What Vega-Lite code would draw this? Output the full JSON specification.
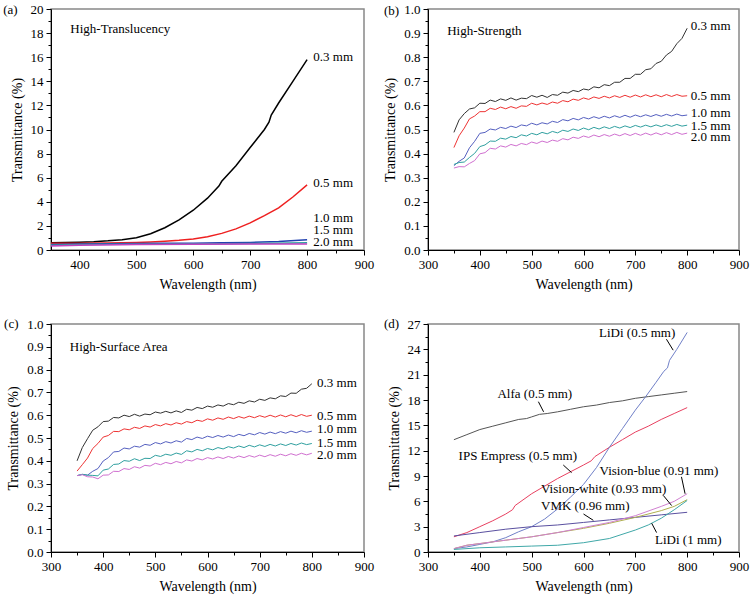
{
  "$schema": "https://vega.github.io/schema/vega-lite/v6.json",
  "padding": {"left": 2, "top": 2, "right": 5, "bottom": 5},
  "background": "white",
  "config": {
    "font": "Liberation Serif",
    "view": {"stroke": "#888888", "strokeWidth": 1.5},
    "axis": {
      "labelFont": "Liberation Serif", "labelFontSize": 13, "labelColor": "#000",
      "titleFont": "Liberation Serif", "titleFontSize": 14, "titleFontWeight": "normal", "titleColor": "#000",
      "domainColor": "#000", "tickColor": "#000", "grid": false,
      "labelFlush": false, "labelOverlap": false, "labelBound": false,
      "labelPadding": 3, "titlePadding": 6, "tickCount": 1000
    },
    "text": {"font": "Liberation Serif", "fontSize": 13, "align": "left", "baseline": "middle", "color": "#000"}
  },
  "datasets": {
    "a": [
      {"s":"0.3 mm","x":350,"y":0.60},{"s":"0.3 mm","x":375,"y":0.62},{"s":"0.3 mm","x":400,"y":0.65},{"s":"0.3 mm","x":425,"y":0.69},{"s":"0.3 mm","x":450,"y":0.76},{"s":"0.3 mm","x":475,"y":0.86},{"s":"0.3 mm","x":500,"y":1.02},{"s":"0.3 mm","x":525,"y":1.35},{"s":"0.3 mm","x":550,"y":1.85},{"s":"0.3 mm","x":575,"y":2.5},{"s":"0.3 mm","x":600,"y":3.3},{"s":"0.3 mm","x":625,"y":4.3},{"s":"0.3 mm","x":645,"y":5.3},{"s":"0.3 mm","x":650,"y":5.7},{"s":"0.3 mm","x":675,"y":7.0},{"s":"0.3 mm","x":700,"y":8.5},{"s":"0.3 mm","x":725,"y":10.0},{"s":"0.3 mm","x":733,"y":10.6},{"s":"0.3 mm","x":737,"y":11.2},{"s":"0.3 mm","x":750,"y":12.2},{"s":"0.3 mm","x":775,"y":14.0},{"s":"0.3 mm","x":800,"y":15.8},
      {"s":"0.5 mm","x":350,"y":0.55},{"s":"0.5 mm","x":400,"y":0.57},{"s":"0.5 mm","x":450,"y":0.58},{"s":"0.5 mm","x":500,"y":0.62},{"s":"0.5 mm","x":525,"y":0.66},{"s":"0.5 mm","x":550,"y":0.72},{"s":"0.5 mm","x":575,"y":0.80},{"s":"0.5 mm","x":600,"y":0.92},{"s":"0.5 mm","x":625,"y":1.1},{"s":"0.5 mm","x":650,"y":1.38},{"s":"0.5 mm","x":675,"y":1.75},{"s":"0.5 mm","x":700,"y":2.25},{"s":"0.5 mm","x":725,"y":2.85},{"s":"0.5 mm","x":750,"y":3.5},{"s":"0.5 mm","x":775,"y":4.4},{"s":"0.5 mm","x":800,"y":5.4},
      {"s":"1.0 mm","x":350,"y":0.45},{"s":"1.0 mm","x":400,"y":0.50},{"s":"1.0 mm","x":450,"y":0.52},{"s":"1.0 mm","x":500,"y":0.54},{"s":"1.0 mm","x":550,"y":0.55},{"s":"1.0 mm","x":600,"y":0.57},{"s":"1.0 mm","x":650,"y":0.60},{"s":"1.0 mm","x":700,"y":0.63},{"s":"1.0 mm","x":750,"y":0.70},{"s":"1.0 mm","x":800,"y":0.85},
      {"s":"1.5 mm","x":350,"y":0.40},{"s":"1.5 mm","x":400,"y":0.45},{"s":"1.5 mm","x":500,"y":0.48},{"s":"1.5 mm","x":600,"y":0.50},{"s":"1.5 mm","x":700,"y":0.53},{"s":"1.5 mm","x":800,"y":0.60},
      {"s":"2.0 mm","x":350,"y":0.33},{"s":"2.0 mm","x":400,"y":0.40},{"s":"2.0 mm","x":500,"y":0.45},{"s":"2.0 mm","x":600,"y":0.48},{"s":"2.0 mm","x":700,"y":0.49},{"s":"2.0 mm","x":800,"y":0.50}
    ],
    "aLab": [
      {"t":"(a)","x":266,"y":19.9},{"t":"High-Translucency","x":384,"y":18.3},
      {"t":"0.3 mm","x":811,"y":16.0},{"t":"0.5 mm","x":811,"y":5.6},{"t":"1.0 mm","x":811,"y":2.65},{"t":"1.5 mm","x":811,"y":1.65},{"t":"2.0 mm","x":811,"y":0.65}
    ],
    "b": [
      {"s":"0.3 mm","x":350,"y":0.488},{"s":"0.3 mm","x":360,"y":0.540},{"s":"0.3 mm","x":370,"y":0.566},{"s":"0.3 mm","x":380,"y":0.585},{"s":"0.3 mm","x":390,"y":0.590},{"s":"0.3 mm","x":400,"y":0.609},{"s":"0.3 mm","x":410,"y":0.608},{"s":"0.3 mm","x":420,"y":0.622},{"s":"0.3 mm","x":430,"y":0.616},{"s":"0.3 mm","x":440,"y":0.627},{"s":"0.3 mm","x":450,"y":0.621},{"s":"0.3 mm","x":460,"y":0.631},{"s":"0.3 mm","x":470,"y":0.622},{"s":"0.3 mm","x":480,"y":0.630},{"s":"0.3 mm","x":490,"y":0.628},{"s":"0.3 mm","x":500,"y":0.641},{"s":"0.3 mm","x":510,"y":0.634},{"s":"0.3 mm","x":520,"y":0.642},{"s":"0.3 mm","x":530,"y":0.633},{"s":"0.3 mm","x":540,"y":0.645},{"s":"0.3 mm","x":550,"y":0.642},{"s":"0.3 mm","x":560,"y":0.655},{"s":"0.3 mm","x":570,"y":0.651},{"s":"0.3 mm","x":580,"y":0.662},{"s":"0.3 mm","x":590,"y":0.657},{"s":"0.3 mm","x":600,"y":0.668},{"s":"0.3 mm","x":610,"y":0.664},{"s":"0.3 mm","x":620,"y":0.677},{"s":"0.3 mm","x":630,"y":0.673},{"s":"0.3 mm","x":640,"y":0.686},{"s":"0.3 mm","x":650,"y":0.682},{"s":"0.3 mm","x":660,"y":0.696},{"s":"0.3 mm","x":670,"y":0.696},{"s":"0.3 mm","x":680,"y":0.712},{"s":"0.3 mm","x":690,"y":0.712},{"s":"0.3 mm","x":700,"y":0.729},{"s":"0.3 mm","x":710,"y":0.729},{"s":"0.3 mm","x":720,"y":0.748},{"s":"0.3 mm","x":730,"y":0.752},{"s":"0.3 mm","x":740,"y":0.774},{"s":"0.3 mm","x":750,"y":0.783},{"s":"0.3 mm","x":760,"y":0.809},{"s":"0.3 mm","x":770,"y":0.824},{"s":"0.3 mm","x":780,"y":0.856},{"s":"0.3 mm","x":790,"y":0.878},{"s":"0.3 mm","x":800,"y":0.920},
      {"s":"0.5 mm","x":350,"y":0.425},{"s":"0.5 mm","x":360,"y":0.474},{"s":"0.5 mm","x":370,"y":0.506},{"s":"0.5 mm","x":380,"y":0.544},{"s":"0.5 mm","x":390,"y":0.556},{"s":"0.5 mm","x":400,"y":0.574},{"s":"0.5 mm","x":410,"y":0.574},{"s":"0.5 mm","x":420,"y":0.588},{"s":"0.5 mm","x":430,"y":0.583},{"s":"0.5 mm","x":440,"y":0.593},{"s":"0.5 mm","x":450,"y":0.586},{"s":"0.5 mm","x":460,"y":0.595},{"s":"0.5 mm","x":470,"y":0.588},{"s":"0.5 mm","x":480,"y":0.598},{"s":"0.5 mm","x":490,"y":0.596},{"s":"0.5 mm","x":500,"y":0.609},{"s":"0.5 mm","x":510,"y":0.602},{"s":"0.5 mm","x":520,"y":0.610},{"s":"0.5 mm","x":530,"y":0.604},{"s":"0.5 mm","x":540,"y":0.614},{"s":"0.5 mm","x":550,"y":0.609},{"s":"0.5 mm","x":560,"y":0.620},{"s":"0.5 mm","x":570,"y":0.615},{"s":"0.5 mm","x":580,"y":0.626},{"s":"0.5 mm","x":590,"y":0.621},{"s":"0.5 mm","x":600,"y":0.631},{"s":"0.5 mm","x":610,"y":0.625},{"s":"0.5 mm","x":620,"y":0.635},{"s":"0.5 mm","x":630,"y":0.629},{"s":"0.5 mm","x":640,"y":0.638},{"s":"0.5 mm","x":650,"y":0.631},{"s":"0.5 mm","x":660,"y":0.640},{"s":"0.5 mm","x":670,"y":0.633},{"s":"0.5 mm","x":680,"y":0.642},{"s":"0.5 mm","x":690,"y":0.634},{"s":"0.5 mm","x":700,"y":0.643},{"s":"0.5 mm","x":710,"y":0.635},{"s":"0.5 mm","x":720,"y":0.644},{"s":"0.5 mm","x":730,"y":0.636},{"s":"0.5 mm","x":740,"y":0.644},{"s":"0.5 mm","x":750,"y":0.636},{"s":"0.5 mm","x":760,"y":0.645},{"s":"0.5 mm","x":770,"y":0.637},{"s":"0.5 mm","x":780,"y":0.645},{"s":"0.5 mm","x":790,"y":0.638},{"s":"0.5 mm","x":800,"y":0.640},
      {"s":"1.0 mm","x":350,"y":0.350},{"s":"1.0 mm","x":360,"y":0.368},{"s":"1.0 mm","x":370,"y":0.382},{"s":"1.0 mm","x":380,"y":0.424},{"s":"1.0 mm","x":390,"y":0.451},{"s":"1.0 mm","x":400,"y":0.484},{"s":"1.0 mm","x":410,"y":0.488},{"s":"1.0 mm","x":420,"y":0.502},{"s":"1.0 mm","x":430,"y":0.498},{"s":"1.0 mm","x":440,"y":0.509},{"s":"1.0 mm","x":450,"y":0.504},{"s":"1.0 mm","x":460,"y":0.514},{"s":"1.0 mm","x":470,"y":0.508},{"s":"1.0 mm","x":480,"y":0.519},{"s":"1.0 mm","x":490,"y":0.515},{"s":"1.0 mm","x":500,"y":0.526},{"s":"1.0 mm","x":510,"y":0.519},{"s":"1.0 mm","x":520,"y":0.528},{"s":"1.0 mm","x":530,"y":0.523},{"s":"1.0 mm","x":540,"y":0.534},{"s":"1.0 mm","x":550,"y":0.529},{"s":"1.0 mm","x":560,"y":0.541},{"s":"1.0 mm","x":570,"y":0.536},{"s":"1.0 mm","x":580,"y":0.546},{"s":"1.0 mm","x":590,"y":0.540},{"s":"1.0 mm","x":600,"y":0.550},{"s":"1.0 mm","x":610,"y":0.544},{"s":"1.0 mm","x":620,"y":0.553},{"s":"1.0 mm","x":630,"y":0.546},{"s":"1.0 mm","x":640,"y":0.555},{"s":"1.0 mm","x":650,"y":0.548},{"s":"1.0 mm","x":660,"y":0.557},{"s":"1.0 mm","x":670,"y":0.550},{"s":"1.0 mm","x":680,"y":0.559},{"s":"1.0 mm","x":690,"y":0.551},{"s":"1.0 mm","x":700,"y":0.560},{"s":"1.0 mm","x":710,"y":0.553},{"s":"1.0 mm","x":720,"y":0.561},{"s":"1.0 mm","x":730,"y":0.554},{"s":"1.0 mm","x":740,"y":0.562},{"s":"1.0 mm","x":750,"y":0.555},{"s":"1.0 mm","x":760,"y":0.563},{"s":"1.0 mm","x":770,"y":0.556},{"s":"1.0 mm","x":780,"y":0.564},{"s":"1.0 mm","x":790,"y":0.557},{"s":"1.0 mm","x":800,"y":0.560},
      {"s":"1.5 mm","x":350,"y":0.355},{"s":"1.5 mm","x":360,"y":0.363},{"s":"1.5 mm","x":370,"y":0.365},{"s":"1.5 mm","x":380,"y":0.384},{"s":"1.5 mm","x":390,"y":0.401},{"s":"1.5 mm","x":400,"y":0.429},{"s":"1.5 mm","x":410,"y":0.436},{"s":"1.5 mm","x":420,"y":0.452},{"s":"1.5 mm","x":430,"y":0.451},{"s":"1.5 mm","x":440,"y":0.464},{"s":"1.5 mm","x":450,"y":0.460},{"s":"1.5 mm","x":460,"y":0.471},{"s":"1.5 mm","x":470,"y":0.466},{"s":"1.5 mm","x":480,"y":0.478},{"s":"1.5 mm","x":490,"y":0.473},{"s":"1.5 mm","x":500,"y":0.484},{"s":"1.5 mm","x":510,"y":0.478},{"s":"1.5 mm","x":520,"y":0.488},{"s":"1.5 mm","x":530,"y":0.482},{"s":"1.5 mm","x":540,"y":0.492},{"s":"1.5 mm","x":550,"y":0.486},{"s":"1.5 mm","x":560,"y":0.497},{"s":"1.5 mm","x":570,"y":0.492},{"s":"1.5 mm","x":580,"y":0.502},{"s":"1.5 mm","x":590,"y":0.496},{"s":"1.5 mm","x":600,"y":0.506},{"s":"1.5 mm","x":610,"y":0.499},{"s":"1.5 mm","x":620,"y":0.509},{"s":"1.5 mm","x":630,"y":0.502},{"s":"1.5 mm","x":640,"y":0.511},{"s":"1.5 mm","x":650,"y":0.504},{"s":"1.5 mm","x":660,"y":0.513},{"s":"1.5 mm","x":670,"y":0.506},{"s":"1.5 mm","x":680,"y":0.515},{"s":"1.5 mm","x":690,"y":0.508},{"s":"1.5 mm","x":700,"y":0.517},{"s":"1.5 mm","x":710,"y":0.510},{"s":"1.5 mm","x":720,"y":0.518},{"s":"1.5 mm","x":730,"y":0.511},{"s":"1.5 mm","x":740,"y":0.519},{"s":"1.5 mm","x":750,"y":0.512},{"s":"1.5 mm","x":760,"y":0.520},{"s":"1.5 mm","x":770,"y":0.513},{"s":"1.5 mm","x":780,"y":0.521},{"s":"1.5 mm","x":790,"y":0.514},{"s":"1.5 mm","x":800,"y":0.518},
      {"s":"2.0 mm","x":350,"y":0.340},{"s":"2.0 mm","x":360,"y":0.346},{"s":"2.0 mm","x":370,"y":0.345},{"s":"2.0 mm","x":380,"y":0.359},{"s":"2.0 mm","x":390,"y":0.371},{"s":"2.0 mm","x":400,"y":0.399},{"s":"2.0 mm","x":410,"y":0.404},{"s":"2.0 mm","x":420,"y":0.422},{"s":"2.0 mm","x":430,"y":0.419},{"s":"2.0 mm","x":440,"y":0.432},{"s":"2.0 mm","x":450,"y":0.427},{"s":"2.0 mm","x":460,"y":0.438},{"s":"2.0 mm","x":470,"y":0.432},{"s":"2.0 mm","x":480,"y":0.442},{"s":"2.0 mm","x":490,"y":0.437},{"s":"2.0 mm","x":500,"y":0.448},{"s":"2.0 mm","x":510,"y":0.442},{"s":"2.0 mm","x":520,"y":0.452},{"s":"2.0 mm","x":530,"y":0.446},{"s":"2.0 mm","x":540,"y":0.456},{"s":"2.0 mm","x":550,"y":0.451},{"s":"2.0 mm","x":560,"y":0.462},{"s":"2.0 mm","x":570,"y":0.457},{"s":"2.0 mm","x":580,"y":0.468},{"s":"2.0 mm","x":590,"y":0.463},{"s":"2.0 mm","x":600,"y":0.473},{"s":"2.0 mm","x":610,"y":0.467},{"s":"2.0 mm","x":620,"y":0.477},{"s":"2.0 mm","x":630,"y":0.470},{"s":"2.0 mm","x":640,"y":0.479},{"s":"2.0 mm","x":650,"y":0.472},{"s":"2.0 mm","x":660,"y":0.481},{"s":"2.0 mm","x":670,"y":0.474},{"s":"2.0 mm","x":680,"y":0.483},{"s":"2.0 mm","x":690,"y":0.475},{"s":"2.0 mm","x":700,"y":0.484},{"s":"2.0 mm","x":710,"y":0.476},{"s":"2.0 mm","x":720,"y":0.485},{"s":"2.0 mm","x":730,"y":0.477},{"s":"2.0 mm","x":740,"y":0.486},{"s":"2.0 mm","x":750,"y":0.478},{"s":"2.0 mm","x":760,"y":0.487},{"s":"2.0 mm","x":770,"y":0.479},{"s":"2.0 mm","x":780,"y":0.488},{"s":"2.0 mm","x":790,"y":0.480},{"s":"2.0 mm","x":800,"y":0.485}
    ],
    "bLab": [
      {"t":"(b)","x":215,"y":0.99},{"t":"High-Strength","x":337,"y":0.91},
      {"t":"0.3 mm","x":807,"y":0.93},{"t":"0.5 mm","x":807,"y":0.64},{"t":"1.0 mm","x":807,"y":0.567},{"t":"1.5 mm","x":807,"y":0.516},{"t":"2.0 mm","x":807,"y":0.467}
    ],
    "c": [
      {"s":"0.3 mm","x":350,"y":0.400},{"s":"0.3 mm","x":360,"y":0.458},{"s":"0.3 mm","x":370,"y":0.497},{"s":"0.3 mm","x":380,"y":0.534},{"s":"0.3 mm","x":390,"y":0.549},{"s":"0.3 mm","x":400,"y":0.572},{"s":"0.3 mm","x":410,"y":0.574},{"s":"0.3 mm","x":420,"y":0.590},{"s":"0.3 mm","x":430,"y":0.588},{"s":"0.3 mm","x":440,"y":0.600},{"s":"0.3 mm","x":450,"y":0.594},{"s":"0.3 mm","x":460,"y":0.604},{"s":"0.3 mm","x":470,"y":0.596},{"s":"0.3 mm","x":480,"y":0.605},{"s":"0.3 mm","x":490,"y":0.602},{"s":"0.3 mm","x":500,"y":0.614},{"s":"0.3 mm","x":510,"y":0.609},{"s":"0.3 mm","x":520,"y":0.617},{"s":"0.3 mm","x":530,"y":0.610},{"s":"0.3 mm","x":540,"y":0.619},{"s":"0.3 mm","x":550,"y":0.612},{"s":"0.3 mm","x":560,"y":0.626},{"s":"0.3 mm","x":570,"y":0.622},{"s":"0.3 mm","x":580,"y":0.634},{"s":"0.3 mm","x":590,"y":0.629},{"s":"0.3 mm","x":600,"y":0.640},{"s":"0.3 mm","x":610,"y":0.635},{"s":"0.3 mm","x":620,"y":0.645},{"s":"0.3 mm","x":630,"y":0.640},{"s":"0.3 mm","x":640,"y":0.651},{"s":"0.3 mm","x":650,"y":0.646},{"s":"0.3 mm","x":660,"y":0.657},{"s":"0.3 mm","x":670,"y":0.652},{"s":"0.3 mm","x":680,"y":0.663},{"s":"0.3 mm","x":690,"y":0.658},{"s":"0.3 mm","x":700,"y":0.670},{"s":"0.3 mm","x":710,"y":0.665},{"s":"0.3 mm","x":720,"y":0.676},{"s":"0.3 mm","x":730,"y":0.672},{"s":"0.3 mm","x":740,"y":0.685},{"s":"0.3 mm","x":750,"y":0.682},{"s":"0.3 mm","x":760,"y":0.697},{"s":"0.3 mm","x":770,"y":0.696},{"s":"0.3 mm","x":780,"y":0.714},{"s":"0.3 mm","x":790,"y":0.718},{"s":"0.3 mm","x":800,"y":0.738},
      {"s":"0.5 mm","x":350,"y":0.355},{"s":"0.5 mm","x":360,"y":0.383},{"s":"0.5 mm","x":370,"y":0.412},{"s":"0.5 mm","x":380,"y":0.454},{"s":"0.5 mm","x":390,"y":0.476},{"s":"0.5 mm","x":400,"y":0.504},{"s":"0.5 mm","x":410,"y":0.511},{"s":"0.5 mm","x":420,"y":0.529},{"s":"0.5 mm","x":430,"y":0.528},{"s":"0.5 mm","x":440,"y":0.540},{"s":"0.5 mm","x":450,"y":0.536},{"s":"0.5 mm","x":460,"y":0.547},{"s":"0.5 mm","x":470,"y":0.542},{"s":"0.5 mm","x":480,"y":0.553},{"s":"0.5 mm","x":490,"y":0.548},{"s":"0.5 mm","x":500,"y":0.559},{"s":"0.5 mm","x":510,"y":0.553},{"s":"0.5 mm","x":520,"y":0.563},{"s":"0.5 mm","x":530,"y":0.557},{"s":"0.5 mm","x":540,"y":0.567},{"s":"0.5 mm","x":550,"y":0.561},{"s":"0.5 mm","x":560,"y":0.572},{"s":"0.5 mm","x":570,"y":0.567},{"s":"0.5 mm","x":580,"y":0.578},{"s":"0.5 mm","x":590,"y":0.573},{"s":"0.5 mm","x":600,"y":0.584},{"s":"0.5 mm","x":610,"y":0.578},{"s":"0.5 mm","x":620,"y":0.588},{"s":"0.5 mm","x":630,"y":0.582},{"s":"0.5 mm","x":640,"y":0.592},{"s":"0.5 mm","x":650,"y":0.585},{"s":"0.5 mm","x":660,"y":0.594},{"s":"0.5 mm","x":670,"y":0.587},{"s":"0.5 mm","x":680,"y":0.596},{"s":"0.5 mm","x":690,"y":0.589},{"s":"0.5 mm","x":700,"y":0.598},{"s":"0.5 mm","x":710,"y":0.591},{"s":"0.5 mm","x":720,"y":0.600},{"s":"0.5 mm","x":730,"y":0.592},{"s":"0.5 mm","x":740,"y":0.601},{"s":"0.5 mm","x":750,"y":0.593},{"s":"0.5 mm","x":760,"y":0.602},{"s":"0.5 mm","x":770,"y":0.594},{"s":"0.5 mm","x":780,"y":0.603},{"s":"0.5 mm","x":790,"y":0.595},{"s":"0.5 mm","x":800,"y":0.600},
      {"s":"1.0 mm","x":350,"y":0.335},{"s":"1.0 mm","x":360,"y":0.340},{"s":"1.0 mm","x":370,"y":0.337},{"s":"1.0 mm","x":380,"y":0.354},{"s":"1.0 mm","x":390,"y":0.366},{"s":"1.0 mm","x":400,"y":0.399},{"s":"1.0 mm","x":410,"y":0.414},{"s":"1.0 mm","x":420,"y":0.439},{"s":"1.0 mm","x":430,"y":0.441},{"s":"1.0 mm","x":440,"y":0.456},{"s":"1.0 mm","x":450,"y":0.452},{"s":"1.0 mm","x":460,"y":0.464},{"s":"1.0 mm","x":470,"y":0.460},{"s":"1.0 mm","x":480,"y":0.472},{"s":"1.0 mm","x":490,"y":0.468},{"s":"1.0 mm","x":500,"y":0.480},{"s":"1.0 mm","x":510,"y":0.474},{"s":"1.0 mm","x":520,"y":0.484},{"s":"1.0 mm","x":530,"y":0.478},{"s":"1.0 mm","x":540,"y":0.488},{"s":"1.0 mm","x":550,"y":0.482},{"s":"1.0 mm","x":560,"y":0.498},{"s":"1.0 mm","x":570,"y":0.493},{"s":"1.0 mm","x":580,"y":0.504},{"s":"1.0 mm","x":590,"y":0.498},{"s":"1.0 mm","x":600,"y":0.508},{"s":"1.0 mm","x":610,"y":0.502},{"s":"1.0 mm","x":620,"y":0.511},{"s":"1.0 mm","x":630,"y":0.504},{"s":"1.0 mm","x":640,"y":0.513},{"s":"1.0 mm","x":650,"y":0.506},{"s":"1.0 mm","x":660,"y":0.516},{"s":"1.0 mm","x":670,"y":0.510},{"s":"1.0 mm","x":680,"y":0.520},{"s":"1.0 mm","x":690,"y":0.514},{"s":"1.0 mm","x":700,"y":0.524},{"s":"1.0 mm","x":710,"y":0.517},{"s":"1.0 mm","x":720,"y":0.526},{"s":"1.0 mm","x":730,"y":0.519},{"s":"1.0 mm","x":740,"y":0.528},{"s":"1.0 mm","x":750,"y":0.521},{"s":"1.0 mm","x":760,"y":0.530},{"s":"1.0 mm","x":770,"y":0.523},{"s":"1.0 mm","x":780,"y":0.532},{"s":"1.0 mm","x":790,"y":0.525},{"s":"1.0 mm","x":800,"y":0.530},
      {"s":"1.5 mm","x":350,"y":0.335},{"s":"1.5 mm","x":360,"y":0.341},{"s":"1.5 mm","x":370,"y":0.337},{"s":"1.5 mm","x":380,"y":0.336},{"s":"1.5 mm","x":390,"y":0.334},{"s":"1.5 mm","x":400,"y":0.359},{"s":"1.5 mm","x":410,"y":0.364},{"s":"1.5 mm","x":420,"y":0.384},{"s":"1.5 mm","x":430,"y":0.386},{"s":"1.5 mm","x":440,"y":0.401},{"s":"1.5 mm","x":450,"y":0.398},{"s":"1.5 mm","x":460,"y":0.409},{"s":"1.5 mm","x":470,"y":0.401},{"s":"1.5 mm","x":480,"y":0.411},{"s":"1.5 mm","x":490,"y":0.410},{"s":"1.5 mm","x":500,"y":0.424},{"s":"1.5 mm","x":510,"y":0.419},{"s":"1.5 mm","x":520,"y":0.429},{"s":"1.5 mm","x":530,"y":0.424},{"s":"1.5 mm","x":540,"y":0.434},{"s":"1.5 mm","x":550,"y":0.428},{"s":"1.5 mm","x":560,"y":0.444},{"s":"1.5 mm","x":570,"y":0.439},{"s":"1.5 mm","x":580,"y":0.450},{"s":"1.5 mm","x":590,"y":0.444},{"s":"1.5 mm","x":600,"y":0.454},{"s":"1.5 mm","x":610,"y":0.448},{"s":"1.5 mm","x":620,"y":0.458},{"s":"1.5 mm","x":630,"y":0.452},{"s":"1.5 mm","x":640,"y":0.462},{"s":"1.5 mm","x":650,"y":0.456},{"s":"1.5 mm","x":660,"y":0.465},{"s":"1.5 mm","x":670,"y":0.458},{"s":"1.5 mm","x":680,"y":0.468},{"s":"1.5 mm","x":690,"y":0.461},{"s":"1.5 mm","x":700,"y":0.470},{"s":"1.5 mm","x":710,"y":0.463},{"s":"1.5 mm","x":720,"y":0.472},{"s":"1.5 mm","x":730,"y":0.465},{"s":"1.5 mm","x":740,"y":0.474},{"s":"1.5 mm","x":750,"y":0.467},{"s":"1.5 mm","x":760,"y":0.476},{"s":"1.5 mm","x":770,"y":0.469},{"s":"1.5 mm","x":780,"y":0.478},{"s":"1.5 mm","x":790,"y":0.471},{"s":"1.5 mm","x":800,"y":0.476},
      {"s":"2.0 mm","x":350,"y":0.335},{"s":"2.0 mm","x":360,"y":0.339},{"s":"2.0 mm","x":370,"y":0.330},{"s":"2.0 mm","x":380,"y":0.329},{"s":"2.0 mm","x":390,"y":0.321},{"s":"2.0 mm","x":400,"y":0.337},{"s":"2.0 mm","x":410,"y":0.338},{"s":"2.0 mm","x":420,"y":0.354},{"s":"2.0 mm","x":430,"y":0.353},{"s":"2.0 mm","x":440,"y":0.366},{"s":"2.0 mm","x":450,"y":0.362},{"s":"2.0 mm","x":460,"y":0.374},{"s":"2.0 mm","x":470,"y":0.368},{"s":"2.0 mm","x":480,"y":0.380},{"s":"2.0 mm","x":490,"y":0.377},{"s":"2.0 mm","x":500,"y":0.389},{"s":"2.0 mm","x":510,"y":0.383},{"s":"2.0 mm","x":520,"y":0.393},{"s":"2.0 mm","x":530,"y":0.387},{"s":"2.0 mm","x":540,"y":0.397},{"s":"2.0 mm","x":550,"y":0.391},{"s":"2.0 mm","x":560,"y":0.404},{"s":"2.0 mm","x":570,"y":0.399},{"s":"2.0 mm","x":580,"y":0.410},{"s":"2.0 mm","x":590,"y":0.404},{"s":"2.0 mm","x":600,"y":0.414},{"s":"2.0 mm","x":610,"y":0.408},{"s":"2.0 mm","x":620,"y":0.417},{"s":"2.0 mm","x":630,"y":0.410},{"s":"2.0 mm","x":640,"y":0.419},{"s":"2.0 mm","x":650,"y":0.412},{"s":"2.0 mm","x":660,"y":0.421},{"s":"2.0 mm","x":670,"y":0.414},{"s":"2.0 mm","x":680,"y":0.423},{"s":"2.0 mm","x":690,"y":0.416},{"s":"2.0 mm","x":700,"y":0.425},{"s":"2.0 mm","x":710,"y":0.418},{"s":"2.0 mm","x":720,"y":0.427},{"s":"2.0 mm","x":730,"y":0.420},{"s":"2.0 mm","x":740,"y":0.429},{"s":"2.0 mm","x":750,"y":0.422},{"s":"2.0 mm","x":760,"y":0.431},{"s":"2.0 mm","x":770,"y":0.424},{"s":"2.0 mm","x":780,"y":0.433},{"s":"2.0 mm","x":790,"y":0.426},{"s":"2.0 mm","x":800,"y":0.433}
    ],
    "cLab": [
      {"t":"(c)","x":210,"y":1.0},{"t":"High-Surface Area","x":336,"y":0.90},
      {"t":"0.3 mm","x":810,"y":0.74},{"t":"0.5 mm","x":810,"y":0.597},{"t":"1.0 mm","x":810,"y":0.539},{"t":"1.5 mm","x":810,"y":0.477},{"t":"2.0 mm","x":810,"y":0.425}
    ],
    "d": [
      {"s":"Alfa","x":350,"y":13.3},{"s":"Alfa","x":375,"y":13.9},{"s":"Alfa","x":400,"y":14.5},{"s":"Alfa","x":425,"y":14.9},{"s":"Alfa","x":450,"y":15.3},{"s":"Alfa","x":475,"y":15.7},{"s":"Alfa","x":490,"y":15.8},{"s":"Alfa","x":500,"y":16.0},{"s":"Alfa","x":515,"y":16.3},{"s":"Alfa","x":530,"y":16.4},{"s":"Alfa","x":550,"y":16.6},{"s":"Alfa","x":575,"y":16.9},{"s":"Alfa","x":600,"y":17.2},{"s":"Alfa","x":625,"y":17.4},{"s":"Alfa","x":650,"y":17.7},{"s":"Alfa","x":675,"y":17.9},{"s":"Alfa","x":700,"y":18.2},{"s":"Alfa","x":725,"y":18.4},{"s":"Alfa","x":750,"y":18.6},{"s":"Alfa","x":775,"y":18.8},{"s":"Alfa","x":800,"y":19.0},
      {"s":"IPS","x":350,"y":1.8},{"s":"IPS","x":375,"y":2.3},{"s":"IPS","x":400,"y":3.0},{"s":"IPS","x":425,"y":3.7},{"s":"IPS","x":450,"y":4.5},{"s":"IPS","x":463,"y":5.0},{"s":"IPS","x":468,"y":5.5},{"s":"IPS","x":500,"y":6.9},{"s":"IPS","x":525,"y":7.8},{"s":"IPS","x":550,"y":8.7},{"s":"IPS","x":575,"y":9.5},{"s":"IPS","x":600,"y":10.3},{"s":"IPS","x":615,"y":10.8},{"s":"IPS","x":622,"y":11.3},{"s":"IPS","x":650,"y":12.4},{"s":"IPS","x":675,"y":13.3},{"s":"IPS","x":700,"y":14.2},{"s":"IPS","x":725,"y":14.9},{"s":"IPS","x":750,"y":15.7},{"s":"IPS","x":775,"y":16.4},{"s":"IPS","x":800,"y":17.1},
      {"s":"LiDi05","x":350,"y":0.4},{"s":"LiDi05","x":375,"y":0.6},{"s":"LiDi05","x":400,"y":0.9},{"s":"LiDi05","x":425,"y":1.2},{"s":"LiDi05","x":450,"y":1.7},{"s":"LiDi05","x":475,"y":2.4},{"s":"LiDi05","x":500,"y":3.0},{"s":"LiDi05","x":525,"y":3.9},{"s":"LiDi05","x":550,"y":5.1},{"s":"LiDi05","x":575,"y":6.5},{"s":"LiDi05","x":600,"y":8.0},{"s":"LiDi05","x":625,"y":10.0},{"s":"LiDi05","x":650,"y":12.4},{"s":"LiDi05","x":675,"y":14.6},{"s":"LiDi05","x":700,"y":16.8},{"s":"LiDi05","x":720,"y":18.4},{"s":"LiDi05","x":740,"y":20.1},{"s":"LiDi05","x":755,"y":21.4},{"s":"LiDi05","x":762,"y":21.8},{"s":"LiDi05","x":766,"y":22.7},{"s":"LiDi05","x":780,"y":24.0},{"s":"LiDi05","x":800,"y":26.0},
      {"s":"VMK","x":350,"y":1.9},{"s":"VMK","x":400,"y":2.3},{"s":"VMK","x":450,"y":2.7},{"s":"VMK","x":500,"y":3.0},{"s":"VMK","x":550,"y":3.2},{"s":"VMK","x":600,"y":3.5},{"s":"VMK","x":650,"y":3.8},{"s":"VMK","x":700,"y":4.1},{"s":"VMK","x":750,"y":4.4},{"s":"VMK","x":800,"y":4.7},
      {"s":"VW","x":350,"y":0.4},{"s":"VW","x":375,"y":0.8},{"s":"VW","x":400,"y":1.0},{"s":"VW","x":450,"y":1.4},{"s":"VW","x":500,"y":1.8},{"s":"VW","x":550,"y":2.3},{"s":"VW","x":600,"y":2.8},{"s":"VW","x":650,"y":3.4},{"s":"VW","x":700,"y":4.1},{"s":"VW","x":750,"y":4.9},{"s":"VW","x":775,"y":5.4},{"s":"VW","x":800,"y":6.2},
      {"s":"VB","x":350,"y":0.4},{"s":"VB","x":375,"y":0.8},{"s":"VB","x":400,"y":1.0},{"s":"VB","x":450,"y":1.4},{"s":"VB","x":500,"y":1.8},{"s":"VB","x":550,"y":2.3},{"s":"VB","x":600,"y":2.9},{"s":"VB","x":650,"y":3.5},{"s":"VB","x":700,"y":4.3},{"s":"VB","x":750,"y":5.4},{"s":"VB","x":775,"y":6.0},{"s":"VB","x":800,"y":6.9},
      {"s":"LiDi1","x":350,"y":0.3},{"s":"LiDi1","x":400,"y":0.5},{"s":"LiDi1","x":450,"y":0.6},{"s":"LiDi1","x":500,"y":0.7},{"s":"LiDi1","x":550,"y":0.8},{"s":"LiDi1","x":600,"y":1.1},{"s":"LiDi1","x":650,"y":1.6},{"s":"LiDi1","x":700,"y":2.6},{"s":"LiDi1","x":725,"y":3.2},{"s":"LiDi1","x":750,"y":4.0},{"s":"LiDi1","x":775,"y":5.0},{"s":"LiDi1","x":800,"y":6.1}
    ],
    "dLab": [
      {"t":"(d)","x":215,"y":27},
      {"t":"LiDi (0.5 mm)","x":630,"y":25.9},{"t":"Alfa (0.5 mm)","x":434,"y":18.66},{"t":"IPS Empress (0.5 mm)","x":359,"y":11.34},
      {"t":"Vision-blue (0.91 mm)","x":631,"y":9.6},{"t":"Vision-white (0.93 mm)","x":518,"y":7.43},{"t":"VMK (0.96 mm)","x":518,"y":5.45},{"t":"LiDi (1 mm)","x":738,"y":1.38}
    ],
    "dArr": [
      {"x":760,"y":25.2,"x2":773,"y2":23.9},{"x":513,"y":17.8,"x2":523,"y2":16.6},{"x":561,"y":10.3,"x2":577,"y2":9.4},
      {"x":789,"y":8.9,"x2":796,"y2":6.9},{"x":754,"y":6.7,"x2":770,"y2":5.5},{"x":600,"y":4.5,"x2":619,"y2":3.75},{"x":741,"y":2.3,"x2":731.6,"y2":3.4}
    ]
  },
  "columns": 2,
  "spacing": {"row": 74, "column": 64},
  "bounds": "flush",
  "resolve": {"scale": {"color": "independent"}},
  "concat": [
    {
      "width": 313, "height": 241,
      "layer": [
        {
          "data": {"name": "a"},
          "mark": {"type": "line", "strokeWidth": 1.5},
          "encoding": {
            "x": {"field": "x", "type": "quantitative", "scale": {"domain": [350, 900], "nice": false, "zero": false},
                  "axis": {"title": "Wavelength (nm)", "format": "d", "tickCount": 1000, "labelOverlap": false, "values": [400,450,500,550,600,650,700,750,800,850,900],
                           "labelExpr": "datum.value % 100 === 0 ? datum.label : ''",
                           "tickSize": {"condition": {"test": "datum.value % 100 === 0", "value": 5}, "value": 3}}},
            "y": {"field": "y", "type": "quantitative", "scale": {"domain": [0, 20], "nice": false},
                  "axis": {"title": "Transmittance (%)", "format": "d", "tickCount": 1000, "labelOverlap": false, "values": [0,1,2,3,4,5,6,7,8,9,10,11,12,13,14,15,16,17,18,19,20],
                           "labelExpr": "datum.value % 2 === 0 ? datum.label : ''",
                           "tickSize": {"condition": {"test": "datum.value % 2 === 0", "value": 5}, "value": 3}}},
            "color": {"field": "s", "type": "nominal", "legend": null,
                      "scale": {"domain": ["0.3 mm","0.5 mm","1.0 mm","1.5 mm","2.0 mm"], "range": ["#000000","#ee2020","#2040b0","#30a0a0","#c040c0"]}}
          }
        },
        {
          "data": {"name": "aLab"},
          "mark": {"type": "text"},
          "encoding": {"x": {"field": "x", "type": "quantitative"}, "y": {"field": "y", "type": "quantitative"}, "text": {"field": "t"}}
        }
      ]
    },
    {
      "width": 311, "height": 241,
      "layer": [
        {
          "data": {"name": "b"},
          "mark": {"type": "line", "strokeWidth": 1},
          "encoding": {
            "x": {"field": "x", "type": "quantitative", "scale": {"domain": [300, 900], "nice": false, "zero": false},
                  "axis": {"title": "Wavelength (nm)", "format": "d", "tickCount": 1000, "labelOverlap": false, "values": [300,350,400,450,500,550,600,650,700,750,800,850,900],
                           "labelExpr": "datum.value % 100 === 0 ? datum.label : ''",
                           "tickSize": {"condition": {"test": "datum.value % 100 === 0", "value": 5}, "value": 3}}},
            "y": {"field": "y", "type": "quantitative", "scale": {"domain": [0, 1], "nice": false},
                  "axis": {"title": "Transmittance (%)", "tickCount": 1000, "labelOverlap": false, "format": ".1f", "values": [0,0.05,0.1,0.15,0.2,0.25,0.3,0.35,0.4,0.45,0.5,0.55,0.6,0.65,0.7,0.75,0.8,0.85,0.9,0.95,1.0],
                           "labelExpr": "round(datum.value*100) % 10 === 0 ? datum.label : ''",
                           "tickSize": {"condition": {"test": "round(datum.value*100) % 10 === 0", "value": 5}, "value": 3}}},
            "color": {"field": "s", "type": "nominal", "legend": null,
                      "scale": {"domain": ["0.3 mm","0.5 mm","1.0 mm","1.5 mm","2.0 mm"], "range": ["#333333","#ee3333","#5560c0","#30a0a0","#d070d0"]}}
          }
        },
        {
          "data": {"name": "bLab"},
          "mark": {"type": "text"},
          "encoding": {"x": {"field": "x", "type": "quantitative"}, "y": {"field": "y", "type": "quantitative"}, "text": {"field": "t"}}
        }
      ]
    },
    {
      "width": 313, "height": 228,
      "layer": [
        {
          "data": {"name": "c"},
          "mark": {"type": "line", "strokeWidth": 1},
          "encoding": {
            "x": {"field": "x", "type": "quantitative", "scale": {"domain": [300, 900], "nice": false, "zero": false},
                  "axis": {"title": "Wavelength (nm)", "format": "d", "tickCount": 1000, "labelOverlap": false, "values": [300,350,400,450,500,550,600,650,700,750,800,850,900],
                           "labelExpr": "datum.value % 100 === 0 ? datum.label : ''",
                           "tickSize": {"condition": {"test": "datum.value % 100 === 0", "value": 5}, "value": 3}}},
            "y": {"field": "y", "type": "quantitative", "scale": {"domain": [0, 1], "nice": false},
                  "axis": {"title": "Transmittance (%)", "tickCount": 1000, "labelOverlap": false, "format": ".1f", "values": [0,0.05,0.1,0.15,0.2,0.25,0.3,0.35,0.4,0.45,0.5,0.55,0.6,0.65,0.7,0.75,0.8,0.85,0.9,0.95,1.0],
                           "labelExpr": "round(datum.value*100) % 10 === 0 ? datum.label : ''",
                           "tickSize": {"condition": {"test": "round(datum.value*100) % 10 === 0", "value": 5}, "value": 3}}},
            "color": {"field": "s", "type": "nominal", "legend": null,
                      "scale": {"domain": ["0.3 mm","0.5 mm","1.0 mm","1.5 mm","2.0 mm"], "range": ["#333333","#ee3333","#5560c0","#30a0a0","#d070d0"]}}
          }
        },
        {
          "data": {"name": "cLab"},
          "mark": {"type": "text"},
          "encoding": {"x": {"field": "x", "type": "quantitative"}, "y": {"field": "y", "type": "quantitative"}, "text": {"field": "t"}}
        }
      ]
    },
    {
      "width": 311, "height": 228,
      "layer": [
        {
          "data": {"name": "d"},
          "mark": {"type": "line", "strokeWidth": 1},
          "encoding": {
            "x": {"field": "x", "type": "quantitative", "scale": {"domain": [300, 900], "nice": false, "zero": false},
                  "axis": {"title": "Wavelength (nm)", "format": "d", "tickCount": 1000, "labelOverlap": false, "values": [300,350,400,450,500,550,600,650,700,750,800,850,900],
                           "labelExpr": "datum.value % 100 === 0 ? datum.label : ''",
                           "tickSize": {"condition": {"test": "datum.value % 100 === 0", "value": 5}, "value": 3}}},
            "y": {"field": "y", "type": "quantitative", "scale": {"domain": [0, 27], "nice": false},
                  "axis": {"title": "Transmittance (%)", "format": "d", "tickCount": 1000, "labelOverlap": false, "values": [0,1.5,3,4.5,6,7.5,9,10.5,12,13.5,15,16.5,18,19.5,21,22.5,24,25.5,27],
                           "labelExpr": "datum.value % 3 === 0 ? datum.label : ''",
                           "tickSize": {"condition": {"test": "datum.value % 3 === 0", "value": 5}, "value": 3}}},
            "color": {"field": "s", "type": "nominal", "legend": null,
                      "scale": {"domain": ["Alfa","IPS","LiDi05","VMK","VW","VB","LiDi1"], "range": ["#555555","#e84060","#7080c8","#5a50a0","#b0b050","#d080d0","#40a8a8"]}}
          }
        },
        {
          "data": {"name": "dArr"},
          "mark": {"type": "rule", "color": "#000", "strokeWidth": 1},
          "encoding": {"x": {"field": "x", "type": "quantitative"}, "y": {"field": "y", "type": "quantitative"}, "x2": {"field": "x2"}, "y2": {"field": "y2"}}
        },
        {
          "data": {"name": "dLab"},
          "mark": {"type": "text", "fontSize": 13},
          "encoding": {"x": {"field": "x", "type": "quantitative"}, "y": {"field": "y", "type": "quantitative"}, "text": {"field": "t"}}
        }
      ]
    }
  ]
}
